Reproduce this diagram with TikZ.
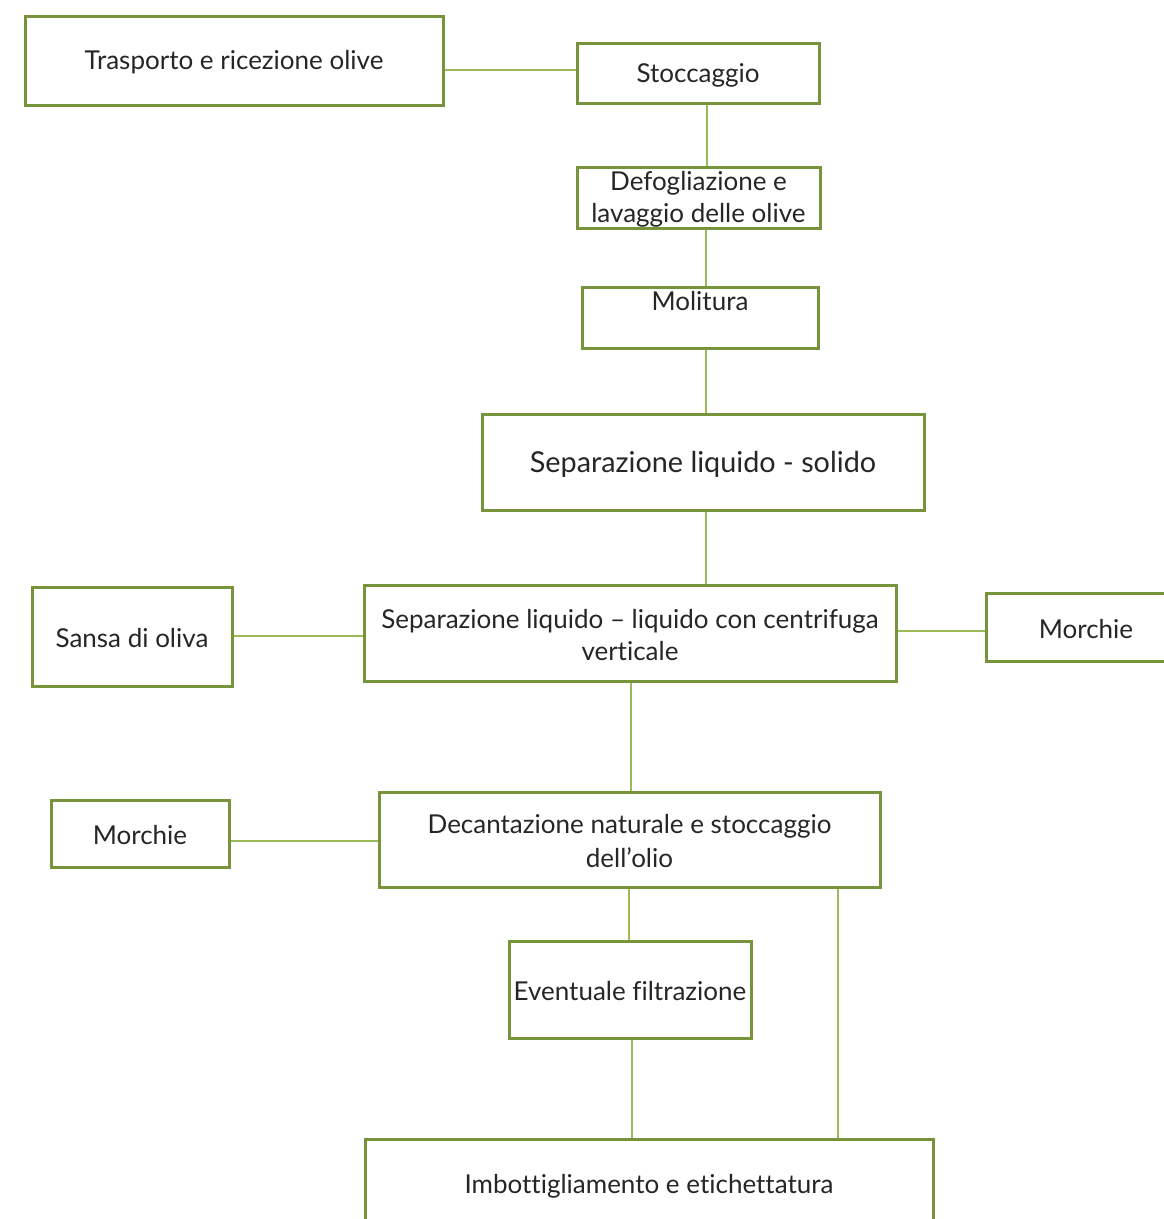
\documentclass[tikz,border=0pt]{standalone}
\usepackage{fontspec}
\setmainfont{Lato}[Ligatures=NoCommon]
\definecolor{boxgreen}{HTML}{77933C}
\definecolor{linegreen}{HTML}{9BBB59}
\definecolor{txt}{HTML}{262626}
\begin{document}
\begin{tikzpicture}[x=1pt,y=-1pt,
  box/.style={draw=boxgreen,line width=3pt,fill=white,inner sep=0pt},
  lbl/.style={inner sep=0pt,align=center,text=txt,font=\fontsize{26}{32}\selectfont},
  conn/.style={draw=linegreen,line width=1.5pt}]
\useasboundingbox (0,0) rectangle (1164,1219);
\clip (0,0) rectangle (1164,1219);
\node[box,minimum width=418pt,minimum height=89pt] (trasp) at (234,60.5) {};
\node[lbl] (trasptxt) at (234,62.5) {Trasporto e ricezione olive};
\node[box,minimum width=242pt,minimum height=60pt] (stocc) at (698,73) {};
\node[lbl] (stocctxt) at (698,75.5) {Stoccaggio};
\node[box,minimum width=243pt,minimum height=61pt] (defo) at (698.5,197.5) {};
\node[lbl] (defotxt) at (698.5,199.5) {Defogliazione e\\lavaggio delle olive};
\node[box,minimum width=236pt,minimum height=61pt] (moli) at (700,317.5) {};
\node[lbl] (molitxt) at (700,301) {Molitura};
\node[box,minimum width=442pt,minimum height=96pt] (sepsol) at (703,462) {};
\node[lbl,font=\fontsize{28.8}{34}\selectfont] (sepsoltxt) at (703,464) {Separazione liquido - solido};
\node[box,minimum width=532pt,minimum height=96pt] (sepliq) at (630,633) {};
\node[lbl] (sepliqtxt) at (630,635) {Separazione liquido -- liquido con centrifuga\\verticale};
\node[box,minimum width=200pt,minimum height=99pt] (sansa) at (132,636.5) {};
\node[lbl] (sansatxt) at (132,638) {Sansa di oliva};
\node[box,minimum width=200pt,minimum height=68pt] (morchr) at (1086,627) {};
\node[lbl] (morchrtxt) at (1086,629) {Morchie};
\node[box,minimum width=501pt,minimum height=95pt] (decant) at (629.5,839.5) {};
\node[lbl,font=\fontsize{26}{34}\selectfont] (decanttxt) at (629.5,841.5) {Decantazione naturale e stoccaggio\\dell’olio};
\node[box,minimum width=178pt,minimum height=67pt] (morchl) at (140,833.5) {};
\node[lbl] (morchltxt) at (140,835.5) {Morchie};
\node[box,minimum width=242pt,minimum height=97pt] (event) at (630,989.5) {};
\node[lbl] (eventtxt) at (630,991.5) {Eventuale filtrazione};
\node[box,minimum width=568pt,minimum height=90pt] (imbot) at (649,1184) {};
\node[lbl] (imbottxt) at (649,1186) {Imbottigliamento e etichettatura};
\draw[conn] (trasp.east |- 0,70) -- (stocc.west |- 0,70);
\draw[conn] (stocc.south -| 707,0) -- (defo.north -| 707,0);
\draw[conn] (defo.south -| 706,0) -- (moli.north -| 706,0);
\draw[conn] (moli.south -| 706,0) -- (sepsol.north -| 706,0);
\draw[conn] (sepsol.south -| 706,0) -- (sepliq.north -| 706,0);
\draw[conn] (sansa.east |- 0,636) -- (sepliq.west |- 0,636);
\draw[conn] (sepliq.east |- 0,631) -- (morchr.west |- 0,631);
\draw[conn] (sepliq.south -| 631,0) -- (decant.north -| 631,0);
\draw[conn] (morchl.east |- 0,841) -- (decant.west |- 0,841);
\draw[conn] (decant.south -| 629,0) -- (event.north -| 629,0);
\draw[conn] (decant.south -| 838,0) -- (imbot.north -| 838,0);
\draw[conn] (event.south -| 632,0) -- (imbot.north -| 632,0);
\end{tikzpicture}
\end{document}
